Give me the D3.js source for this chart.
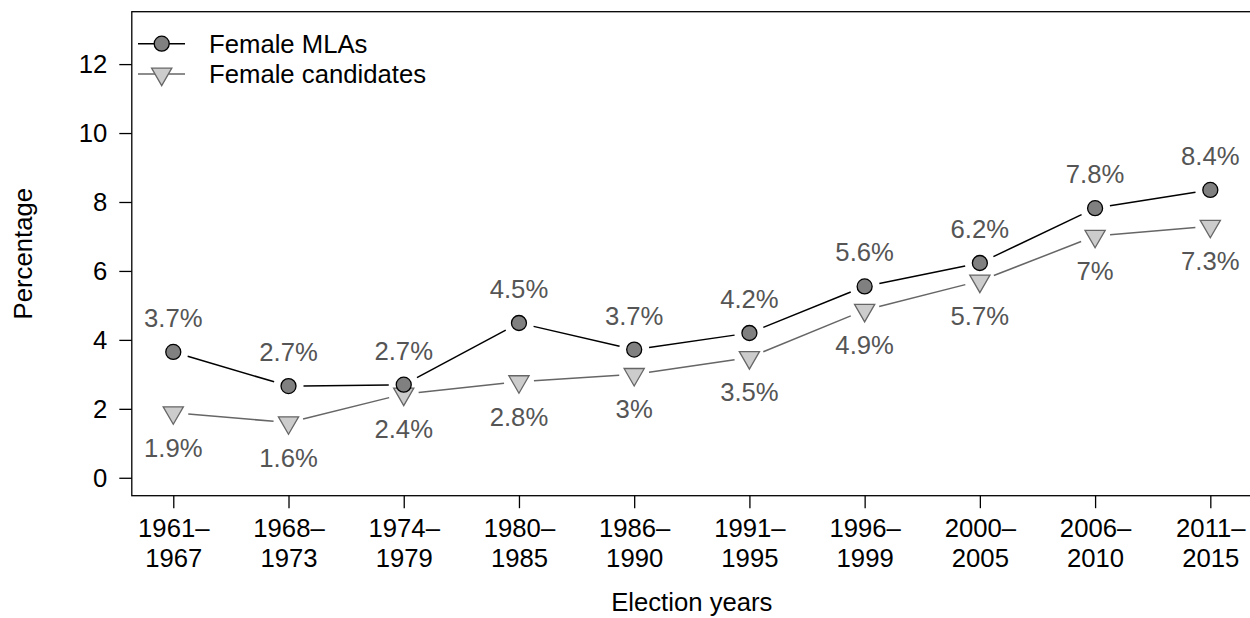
<!DOCTYPE html>
<html>
<head>
<meta charset="utf-8">
<script src="https://cdn.jsdelivr.net/npm/d3@7"></script>
<style>
  html, body { margin: 0; padding: 0; background: #fff; }
  svg { display: block; font-family: "Liberation Sans", Arial, sans-serif; }
</style>
</head>
<body>
<svg id="chart" width="1250" height="618"></svg>
<script>
// ---- data ----
const periodStart = ["1961–", "1968–", "1974–", "1980–", "1986–", "1991–", "1996–", "2000–", "2006–", "2011–"];
const periodEnd   = ["1967", "1973", "1979", "1985", "1990", "1995", "1999", "2005", "2010", "2015"];
const femaleMLAs       = [3.65, 2.66, 2.70, 4.49, 3.72, 4.20, 5.55, 6.23, 7.82, 8.35];
const femaleCandidates = [1.89, 1.60, 2.43, 2.79, 3.00, 3.49, 4.86, 5.71, 7.01, 7.30];
const mlaLabels  = ["3.7%", "2.7%", "2.7%", "4.5%", "3.7%", "4.2%", "5.6%", "6.2%", "7.8%", "8.4%"];
const candLabels = ["1.9%", "1.6%", "2.4%", "2.8%", "3%", "3.5%", "4.9%", "5.7%", "7%", "7.3%"];
const yTicks = [0, 2, 4, 6, 8, 10, 12];
const seriesNames = ["Female MLAs", "Female candidates"];

// ---- layout ----
const svg = d3.select("#chart");
const pLeft = 131.8, pRight = 1251.8, pTop = 11.7, pBottom = 495.7;
const FS = 25.7;

const x = d3.scaleLinear().domain([0.64, 10.36]).range([pLeft, pRight]);
const y = d3.scaleLinear().domain([-0.52, 13.52]).range([pBottom, pTop]);

// box
svg.append("rect")
  .attr("x", pLeft).attr("y", pTop)
  .attr("width", pRight - pLeft).attr("height", pBottom - pTop)
  .attr("fill", "none").attr("stroke", "#000").attr("stroke-width", 1.3);

// y axis
const yAxis = d3.axisLeft(y).tickValues(yTicks).tickSize(12.5).tickPadding(12).tickFormat(d3.format("d"));
const gy = svg.append("g").attr("transform", `translate(${pLeft},0)`).call(yAxis);
gy.select(".domain").remove();
gy.selectAll(".tick line").attr("stroke", "#000").attr("stroke-width", 1.3);
gy.selectAll(".tick text").attr("font-size", FS).attr("fill", "#000")
  .attr("font-family", "Liberation Sans, Arial, sans-serif");

// x axis
const idx = d3.range(1, 11);
const xAxis = d3.axisBottom(x).tickValues(idx).tickSize(12.5).tickFormat("");
const gx = svg.append("g").attr("transform", `translate(0,${pBottom})`).call(xAxis);
gx.select(".domain").remove();
gx.selectAll(".tick line").attr("stroke", "#000").attr("stroke-width", 1.3);
gx.selectAll(".tick").each(function(d, i) {
  const t = d3.select(this).append("text")
    .attr("text-anchor", "middle").attr("font-size", FS).attr("fill", "#000")
    .attr("font-family", "Liberation Sans, Arial, sans-serif");
  t.append("tspan").attr("x", 0).attr("y", 41).text(periodStart[i]);
  t.append("tspan").attr("x", 0).attr("y", 71).text(periodEnd[i]);
});

// axis titles
svg.append("text")
  .attr("x", (pLeft + pRight) / 2).attr("y", 611)
  .attr("text-anchor", "middle").attr("font-size", FS).attr("fill", "#000")
  .text("Election years");
svg.append("text")
  .attr("transform", `translate(32,${(pTop + pBottom) / 2}) rotate(-90)`)
  .attr("text-anchor", "middle").attr("font-size", FS).attr("fill", "#000")
  .text("Percentage");

// line with gaps (type = "b")
function gappedSegments(vals, gap) {
  const segs = [];
  for (let i = 0; i < vals.length - 1; i++) {
    const x1 = x(i + 1), y1 = y(vals[i]), x2 = x(i + 2), y2 = y(vals[i + 1]);
    const dx = x2 - x1, dy = y2 - y1, L = Math.hypot(dx, dy);
    const ux = dx / L, uy = dy / L;
    segs.push([x1 + ux * gap, y1 + uy * gap, x2 - ux * gap, y2 - uy * gap]);
  }
  return segs;
}

const R = 7.5;
const triR = 1.5551 * R, triXC = 1.3468 * R, triYC = 0.7776 * R;
function triPath(cx, cy) {
  // downward-pointing triangle (R pch 25)
  return `M${cx},${cy + triR}L${cx + triXC},${cy - triYC}L${cx - triXC},${cy - triYC}Z`;
}

// candidates series
svg.append("g").selectAll("line")
  .data(gappedSegments(femaleCandidates, 15)).join("line")
  .attr("x1", d => d[0]).attr("y1", d => d[1]).attr("x2", d => d[2]).attr("y2", d => d[3])
  .attr("stroke", "#666").attr("stroke-width", 1.5);
svg.append("g").selectAll("path")
  .data(femaleCandidates).join("path")
  .attr("d", (d, i) => triPath(x(i + 1), y(d)))
  .attr("fill", "#cccccc").attr("stroke", "#666").attr("stroke-width", 1.3);

// MLA series
svg.append("g").selectAll("line")
  .data(gappedSegments(femaleMLAs, 15)).join("line")
  .attr("x1", d => d[0]).attr("y1", d => d[1]).attr("x2", d => d[2]).attr("y2", d => d[3])
  .attr("stroke", "#000").attr("stroke-width", 1.5);
svg.append("g").selectAll("circle")
  .data(femaleMLAs).join("circle")
  .attr("cx", (d, i) => x(i + 1)).attr("cy", d => y(d)).attr("r", R)
  .attr("fill", "#808080").attr("stroke", "#000").attr("stroke-width", 1.3);

// value labels
svg.append("g").selectAll("text")
  .data(femaleMLAs).join("text")
  .attr("x", (d, i) => x(i + 1)).attr("y", d => y(d) - 34)
  .attr("dy", "0.35em").attr("text-anchor", "middle")
  .attr("font-size", FS).attr("fill", "#555")
  .text((d, i) => mlaLabels[i]);
svg.append("g").selectAll("text")
  .data(femaleCandidates).join("text")
  .attr("x", (d, i) => x(i + 1)).attr("y", d => y(d) + 35)
  .attr("dy", "0.35em").attr("text-anchor", "middle")
  .attr("font-size", FS).attr("fill", "#555")
  .text((d, i) => candLabels[i]);

// legend
const lg = svg.append("g");
const legY = [43.7, 74];
lg.append("line").attr("x1", 138).attr("x2", 185).attr("y1", legY[0]).attr("y2", legY[0])
  .attr("stroke", "#000").attr("stroke-width", 1.5);
lg.append("circle").attr("cx", 161.7).attr("cy", legY[0]).attr("r", R)
  .attr("fill", "#808080").attr("stroke", "#000").attr("stroke-width", 1.3);
lg.append("line").attr("x1", 138).attr("x2", 185).attr("y1", legY[1]).attr("y2", legY[1])
  .attr("stroke", "#666").attr("stroke-width", 1.5);
lg.append("path").attr("d", triPath(161.7, legY[1]))
  .attr("fill", "#cccccc").attr("stroke", "#666").attr("stroke-width", 1.3);
lg.selectAll("text.leg").data(seriesNames).join("text")
  .attr("class", "leg")
  .attr("x", 209).attr("y", (d, i) => legY[i]).attr("dy", "0.35em")
  .attr("font-size", FS).attr("fill", "#000")
  .text(d => d);
</script>
</body>
</html>
